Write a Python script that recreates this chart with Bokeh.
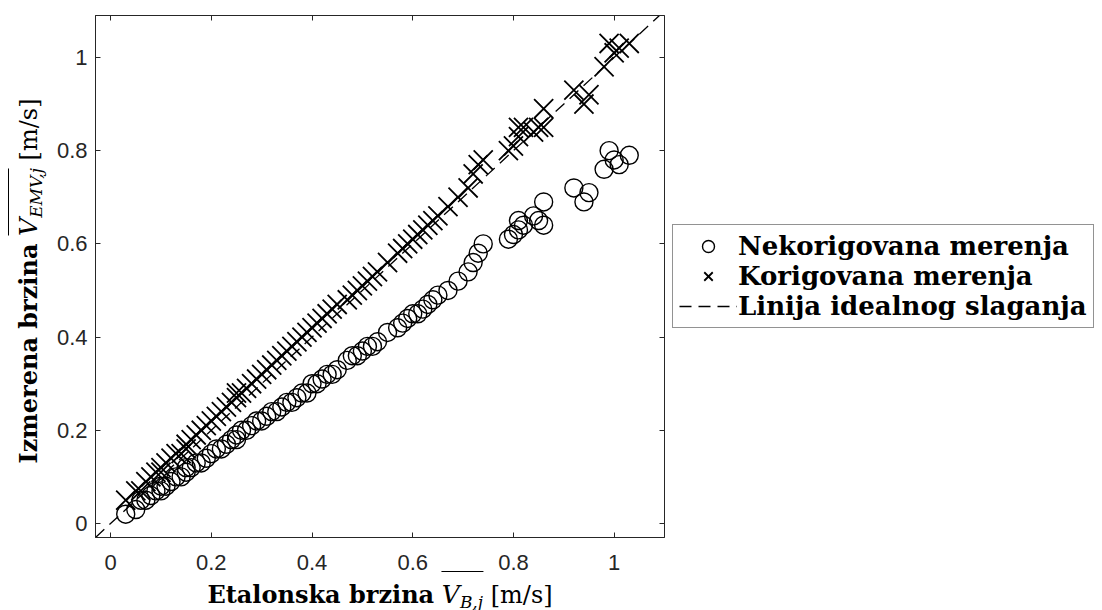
from bokeh.plotting import figure
from bokeh.models import (Range1d, LinearAxis, FixedTicker, Legend, LegendItem,
                          CustomJSTickFormatter, GridBox, Div)
from bokeh.embed import file_html
from bokeh.resources import INLINE

# ---------------- data ----------------
etalon = [0.03, 0.05, 0.06, 0.07, 0.08, 0.09, 0.10, 0.10, 0.11, 0.12, 0.13, 0.14, 0.15, 0.15,
          0.16, 0.17, 0.18, 0.19, 0.20, 0.21, 0.22, 0.23, 0.24, 0.25, 0.25, 0.26, 0.27, 0.28,
          0.29, 0.30, 0.31, 0.32, 0.33, 0.34, 0.35, 0.36, 0.37, 0.38, 0.39, 0.40, 0.41, 0.42,
          0.43, 0.44, 0.45, 0.47, 0.48, 0.49, 0.50, 0.51, 0.52, 0.53, 0.55, 0.57, 0.58, 0.59,
          0.60, 0.61, 0.62, 0.63, 0.64, 0.65, 0.67, 0.69, 0.71, 0.72, 0.73, 0.74, 0.79, 0.80,
          0.81, 0.81, 0.82, 0.84, 0.85, 0.86, 0.86, 0.92, 0.94, 0.95, 0.98, 0.99, 1.00, 1.01, 1.03]

nekorigovana = [0.02, 0.03, 0.05, 0.05, 0.06, 0.07, 0.07, 0.08, 0.08, 0.09, 0.10, 0.10, 0.11, 0.12,
                0.12, 0.13, 0.13, 0.14, 0.15, 0.16, 0.16, 0.17, 0.18, 0.18, 0.19, 0.20, 0.20, 0.21,
                0.22, 0.22, 0.23, 0.24, 0.24, 0.25, 0.26, 0.26, 0.27, 0.28, 0.28, 0.30, 0.30, 0.31,
                0.32, 0.32, 0.33, 0.35, 0.36, 0.36, 0.37, 0.38, 0.38, 0.39, 0.41, 0.42, 0.43, 0.44,
                0.45, 0.45, 0.46, 0.47, 0.48, 0.49, 0.50, 0.52, 0.54, 0.56, 0.58, 0.60, 0.61, 0.62,
                0.63, 0.65, 0.64, 0.66, 0.65, 0.69, 0.64, 0.72, 0.69, 0.71, 0.76, 0.80, 0.78, 0.77, 0.79]

korigovana = [0.05, 0.07, 0.07, 0.09, 0.10, 0.11, 0.11, 0.12, 0.13, 0.14, 0.15, 0.15, 0.16, 0.17,
              0.18, 0.19, 0.20, 0.21, 0.22, 0.23, 0.24, 0.25, 0.26, 0.27, 0.28, 0.28, 0.29, 0.30,
              0.31, 0.32, 0.33, 0.34, 0.35, 0.36, 0.37, 0.38, 0.39, 0.40, 0.41, 0.42, 0.43, 0.44,
              0.45, 0.46, 0.47, 0.48, 0.49, 0.50, 0.51, 0.52, 0.53, 0.54, 0.56, 0.58, 0.59, 0.60,
              0.61, 0.62, 0.63, 0.64, 0.65, 0.66, 0.68, 0.70, 0.72, 0.75, 0.77, 0.78, 0.80, 0.81,
              0.83, 0.85, 0.85, 0.84, 0.85, 0.89, 0.85, 0.93, 0.90, 0.92, 0.98, 1.03, 1.01, 1.02, 1.03]

ideal = [-0.03, 1.09]

x_range = [-0.03, 1.1]
y_range = [-0.03, 1.09]
x_ticks = [0, 0.2, 0.4, 0.6, 0.8, 1]
x_tick_labels = ["0", "0.2", "0.4", "0.6", "0.8", "1"]
y_ticks = [0, 0.2, 0.4, 0.6, 0.8, 1]
y_tick_labels = ["0", "0.2", "0.4", "0.6", "0.8", "1"]

legend_labels = ["Nekorigovana merenja", "Korigovana merenja", "Linija idealnog slaganja"]

x_title = ["Etalonska brzina", "V", "B,j", "[m/s]"]
y_title = ["Izmerena brzina", "V", "EMV,j", "[m/s]"]

# ---------------- main figure ----------------
AX = "#262626"
W, H = 1102, 610
FRAME_L, FRAME_T, FRAME_W, FRAME_H = 95, 15, 569, 522

p = figure(frame_width=FRAME_W, frame_height=FRAME_H,
           x_range=Range1d(*x_range), y_range=Range1d(*y_range),
           output_backend="svg", toolbar_location=None,
           min_border_left=FRAME_L, min_border_top=FRAME_T,
           min_border_right=W - FRAME_L - FRAME_W,
           min_border_bottom=H - FRAME_T - FRAME_H)
p.background_fill_color = "white"
p.border_fill_color = "white"
p.outline_line_color = AX
p.outline_line_width = 1
p.xgrid.visible = False
p.ygrid.visible = False

def style_axis(ax, ticks, labels, show_labels=True, standoff=10, tin=5, tout=0):
    ax.ticker = FixedTicker(ticks=ticks)
    ax.axis_line_color = AX
    ax.major_tick_line_color = AX
    ax.major_tick_in = tin
    ax.major_tick_out = tout
    ax.minor_tick_in = 0
    ax.minor_tick_out = 0
    if show_labels:
        ax.major_label_overrides = {str(t): l for t, l in zip(ticks, labels)}
        ax.major_label_text_font = "Liberation Sans"
        ax.major_label_text_font_size = "22px"
        ax.major_label_text_color = AX
        ax.major_label_standoff = standoff
    else:
        ax.formatter = CustomJSTickFormatter(code="return ''")
        ax.major_label_text_font_size = "1px"
        ax.major_label_standoff = 0

style_axis(p.xaxis[0], x_ticks, x_tick_labels, standoff=17)
style_axis(p.yaxis[0], y_ticks, y_tick_labels, standoff=8)

# box ticks on the top edge
top_ax = LinearAxis()
style_axis(top_ax, x_ticks, x_tick_labels, show_labels=False)
p.add_layout(top_ax, "above")

# box ticks on the right edge (axis pinned to the right border of the frame)
right_ax = LinearAxis(fixed_location=x_range[1])
style_axis(right_ax, y_ticks, y_tick_labels, show_labels=False, tin=0, tout=5)
p.add_layout(right_ax, "left")

r_circ = p.scatter(etalon, nekorigovana, marker="circle", size=18, fill_color=None,
                   line_color="black", line_width=1.4)
r_x = p.scatter(etalon, korigovana, marker="x", size=27, line_color="black", line_width=1.8)
r_line = p.line(ideal, ideal, line_color="black", line_width=1.3, line_dash="12 7")

legend = Legend(items=[LegendItem(label=legend_labels[0], renderers=[r_circ]),
                       LegendItem(label=legend_labels[1], renderers=[r_x]),
                       LegendItem(label=legend_labels[2], renderers=[r_line])],
                location="center_left", orientation="vertical",
                padding=6, spacing=0, margin=8,
                glyph_width=58, glyph_height=30, label_standoff=1, label_width=345,
                label_text_font="DejaVu Serif", label_text_font_style="bold",
                label_text_font_size="26px", label_text_color="black",
                border_line_color=AX, border_line_width=1.3,
                background_fill_color="white", background_fill_alpha=1.0)
p.add_layout(legend, "right")

# ---------------- axis titles as HTML text on a transparent overlay ----------------
FONT = "'DejaVu Serif', serif"

def title_html(parts, pos_style, pad):
    main, v, sub, unit = parts
    return (f'<div style="position:absolute; {pos_style} white-space:nowrap; '
            f'font-family:{FONT}; font-size:24px; line-height:1; color:black;">'
            f'<b>{main}</b>&nbsp;'
            f'<span style="display:inline-block; border-top:1.3px solid black; '
            f'padding-top:{pad}px; line-height:1;">'
            f'<i style="font-size:25px;">{v}</i>'
            f'<i style="font-size:17px; position:relative; top:5px;">{sub}</i></span>'
            f'&nbsp;{unit}</div>')

html = (f'<div style="position:relative; width:{W}px; height:{H}px;">'
        + title_html(x_title, "left:375px; top:566px; transform:translateX(-50%);", 10)
        + title_html(y_title, "left:3px; top:276px; transform-origin:0 0; "
                              "transform:rotate(-90deg) translateX(-50%);", 7)
        + '</div>')

titles = Div(text=html, width=W, height=H)

layout = GridBox(children=[(p, 0, 0), (titles, 0, 0)])

open("out.html", "w").write(file_html(layout, INLINE))
